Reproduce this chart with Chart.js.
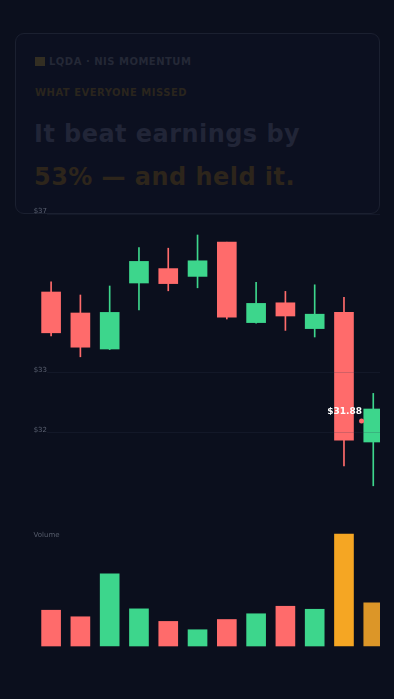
<!DOCTYPE html>
<html><head><meta charset="utf-8">
<script src="https://cdn.jsdelivr.net/npm/chart.js@4.4.1/dist/chart.umd.min.js"></script>
<style>
html,body{margin:0;padding:0;background:#0b0f1d;width:394px;height:699px;overflow:hidden;font-family:"DejaVu Sans",sans-serif;}
.card{position:absolute;left:15px;top:33px;width:365px;height:181px;box-sizing:border-box;border:1px solid #1b2030;border-radius:9px;background:#0c1020;z-index:0;}
.t{position:absolute;white-space:nowrap;font-weight:bold;z-index:0;}
.sq{position:absolute;left:35px;top:57px;width:10px;height:9px;background:#332e22;}
.tk{left:49px;top:57px;font-size:10px;line-height:10px;letter-spacing:.5px;color:#242836;}
.kick{left:35px;top:88px;font-size:10px;line-height:10px;letter-spacing:.5px;color:#2a251d;}
.h1{left:34px;top:122px;font-size:24px;line-height:24px;letter-spacing:.45px;color:#212537;}
.h2{left:34px;top:165px;font-size:24px;line-height:24px;letter-spacing:.45px;color:#2d251b;}
.box{position:absolute;left:0;width:394px;z-index:1;}
#priceBox{top:190px;height:320px;}
#volBox{top:520px;height:140px;}
.vol{position:absolute;left:33.5px;top:531px;font-size:7px;line-height:8px;color:#565c6b;z-index:2;font-weight:normal;}
</style>
</head>
<body>
<div class="card"></div>
<div class="sq"></div>
<div class="t tk">LQDA · NIS MOMENTUM</div>
<div class="t kick">WHAT EVERYONE MISSED</div>
<div class="t h1">It beat earnings by</div>
<div class="t h2">53% — and held it.</div>
<div class="box" id="priceBox"><canvas id="price"></canvas></div>
<div class="box" id="volBox"><canvas id="vol"></canvas></div>
<div class="vol">Volume</div>
<script>
// ---- data ----
const days = ['Day 1','Day 2','Day 3','Day 4','Day 5','Day 6','Day 7','Day 8','Day 9','Day 10','Day 11','Day 12'];
const openPrices  = [34.35, 34.00, 33.40, 34.50, 34.74, 34.61, 35.18, 33.84, 34.17, 33.74, 34.01, 31.85];
const closePrices = [33.67, 33.43, 34.01, 34.86, 34.49, 34.87, 33.93, 34.16, 33.95, 33.98, 31.88, 32.40];
const highPrices  = [34.52, 34.30, 34.45, 35.09, 35.08, 35.30, 35.18, 34.51, 34.36, 34.47, 34.26, 32.66];
const lowPrices   = [33.62, 33.27, 33.39, 34.05, 34.37, 34.42, 33.90, 33.83, 33.71, 33.60, 31.45, 31.12];
const volumes     = [2.62, 2.14, 5.29, 2.72, 1.80, 1.19, 1.94, 2.36, 2.91, 2.69, 8.20, 3.16];
const earningsDay = 10;
const afterEarningsDay = 11;
const priceTickValues = [32, 33, 35.65];
const priceTickLabels = ['$32', '$33', '$37'];
const lastPriceLabel = '$31.88';
const lastPriceMarker = {x: 10.6, y: 32.2};

// ---- style / layout ----
const RED = '#ff6b6b', GREEN = '#3dd68c', ORANGE = '#f5a623', ORANGE_DIM = '#dc9628';
const GRID = 'rgba(52,60,82,0.22)';
const X_MIN = -0.14, X_MAX = 11.23;
const FONT = '"DejaVu Sans", sans-serif';

const isUp = i => closePrices[i] >= openPrices[i];
const candleColor = i => isUp(i) ? GREEN : RED;
const volColor = i => i === earningsDay ? ORANGE : (i === afterEarningsDay ? ORANGE_DIM : candleColor(i));

const bodyData = days.map((d, i) => ({x: i, y: [openPrices[i], closePrices[i]]}));
const wickData = days.map((d, i) => ({x: i, y: [lowPrices[i], highPrices[i]]}));
const volData = days.map((d, i) => ({x: i, y: volumes[i]}));

const clipOpt = {left: false, top: false, bottom: false, right: 0};

const markerLabelPlugin = {
  id: 'markerLabel',
  afterDatasetsDraw(chart) {
    const meta = chart.getDatasetMeta(2);
    const pt = meta.data[0];
    if (!pt) return;
    const ctx = chart.ctx;
    ctx.save();
    ctx.font = 'bold 9px ' + FONT;
    ctx.fillStyle = '#ffffff';
    ctx.textAlign = 'right';
    ctx.textBaseline = 'alphabetic';
    ctx.fillText(lastPriceLabel, pt.x + 0.5, pt.y - 7.5);
    ctx.restore();
  }
};

new Chart(document.getElementById('price'), {
  type: 'bar',
  data: {
    datasets: [
      {label: 'Body', data: bodyData, backgroundColor: c => candleColor(c.dataIndex), borderWidth: 0,
       barThickness: 19, grouped: false, order: 1, clip: clipOpt},
      {label: 'Wick', data: wickData, backgroundColor: c => candleColor(c.dataIndex), borderWidth: 0,
       barThickness: 1, grouped: false, order: 2, clip: clipOpt},
      {type: 'line', label: 'Last', data: [lastPriceMarker], showLine: false, pointRadius: 2.5,
       pointBackgroundColor: RED, pointBorderWidth: 0, order: 0}
    ]
  },
  options: {
    responsive: true, maintainAspectRatio: false, animation: false, devicePixelRatio: 1,
    layout: {padding: {left: 33, right: 14, top: 24, bottom: 14}},
    plugins: {legend: {display: false}, tooltip: {enabled: false}},
    scales: {
      x: {type: 'linear', min: X_MIN, max: X_MAX, offset: false, display: false},
      y: {
        type: 'linear', min: 30.95, max: 35.65,
        grid: {color: GRID, drawTicks: false, z: 1, lineWidth: 1},
        border: {display: false},
        afterBuildTicks: s => { s.ticks = priceTickValues.map(v => ({value: v})); },
        afterFit: s => { s.width = 14; },
        ticks: {padding: 0, color: '#5a6070', font: {family: FONT, size: 7}, labelOffset: -3,
                autoSkip: false, callback: (v, i) => priceTickLabels[i]}
      }
    }
  },
  plugins: [markerLabelPlugin]
});

new Chart(document.getElementById('vol'), {
  type: 'bar',
  data: {
    datasets: [
      {label: 'Volume', data: volData, backgroundColor: c => volColor(c.dataIndex), borderWidth: 0,
       barThickness: 19, grouped: false, clip: clipOpt}
    ]
  },
  options: {
    responsive: true, maintainAspectRatio: false, animation: false, devicePixelRatio: 1,
    layout: {padding: {left: 47, right: 14, top: 14, bottom: 14}},
    plugins: {legend: {display: false}, tooltip: {enabled: false}},
    scales: {
      x: {type: 'linear', min: X_MIN, max: X_MAX, offset: false, display: false},
      y: {type: 'linear', min: 0, max: 8.2, display: false}
    }
  }
});
</script>
</body></html>
